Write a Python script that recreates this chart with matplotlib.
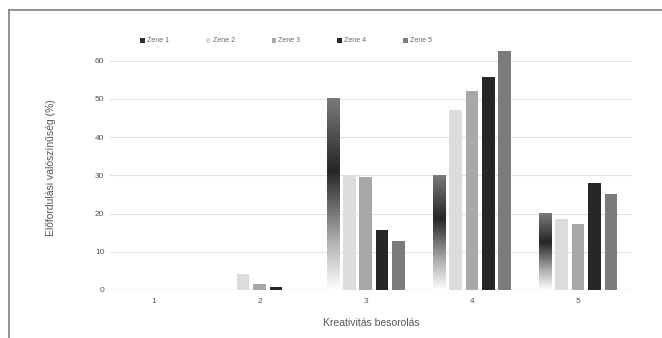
import numpy as np
import matplotlib
matplotlib.use("Agg")
import matplotlib.pyplot as plt
from matplotlib.colors import LinearSegmentedColormap
from matplotlib.lines import Line2D
from matplotlib.patches import Patch

plt.rcParams['font.family'] = ['Liberation Sans', 'DejaVu Sans']

categories = [1, 2, 3, 4, 5]
series_names = ["Zene 1", "Zene 2", "Zene 3", "Zene 4", "Zene 5"]
zene1 = [0, 0, 50.0, 30.0, 20.1]
zene2 = [0, 4.2, 30.0, 47.1, 18.6]
zene3 = [0, 1.5, 29.6, 52.2, 17.4]
zene4 = [0, 0.8, 15.7, 55.8, 28.1]
zene5 = [0, 0, 12.8, 62.6, 25.1]
y_ticks = [0, 10, 20, 30, 40, 50, 60]

series = [zene1, zene2, zene3, zene4, zene5]
colors = ["#3a3a3a", "#dcdcdc", "#a8a8a8", "#262626", "#7b7b7b"]

W, H = 662, 338
fig = plt.figure(figsize=(W / 100, H / 100), dpi=100)
fig.patch.set_facecolor("white")

# frame lines along top and left edge
fig.add_artist(Line2D([8.5 / W, 1.0], [1 - 9.5 / H, 1 - 9.5 / H],
                      transform=fig.transFigure, color="#8a8a8a", lw=1.3))
fig.add_artist(Line2D([8.5 / W, 8.5 / W], [0, 1 - 9.5 / H],
                      transform=fig.transFigure, color="#8a8a8a", lw=1.3))

ax = fig.add_axes([110 / W, 48 / H, 522 / W, 244.5 / H])
ax.set_xlim(0.592, 5.508)
ax.set_ylim(0, 64)

for s in ax.spines.values():
    s.set_visible(False)
ax.set_yticks(y_ticks)
ax.yaxis.grid(True, color="#e2e2e2", lw=0.8)
ax.set_axisbelow(True)
ax.axhline(0, color="#d4d4d4", lw=0.9, zorder=1)
ax.tick_params(axis="both", length=0, labelsize=6, labelcolor="#555555")
ax.tick_params(axis="y", pad=4)
ax.tick_params(axis="x", pad=6)
ax.set_xticks(categories)

bar_w = 0.118
step = 0.1545
offsets = (np.arange(5) - 2) * step

grad = LinearSegmentedColormap.from_list(
    "g", [(0.0, "#ffffff"), (0.25, "#b0b0b0"), (0.62, "#262626"), (1.0, "#7a7a7a")])
grad_img = np.linspace(0, 1, 256).reshape(-1, 1)

x = np.array(categories, dtype=float)
for i, (vals, c) in enumerate(zip(series, colors)):
    xs = x + offsets[i]
    if i == 0:
        for xi, v in zip(xs, vals):
            if v <= 0:
                continue
            ax.imshow(grad_img, cmap=grad, origin="lower", aspect="auto",
                      extent=(xi - bar_w / 2, xi + bar_w / 2, 0, v), zorder=2,
                      interpolation="bilinear")
        ax.set_xlim(0.592, 5.508)
        ax.set_ylim(0, 64)
    else:
        ax.bar(xs, vals, width=bar_w, color=c, zorder=2, linewidth=0)

ax.set_xlabel("Kreativitás besorolás", fontsize=7.5, color="#555555", labelpad=9)
ax.set_ylabel("Előfordulási valószínűség (%)", fontsize=7.5, color="#555555", labelpad=28)

handles = [Patch(facecolor=c, edgecolor="none") for c in colors]
handles[0] = Patch(facecolor="#2e2e2e", edgecolor="none")
fig.legend(handles, series_names, loc="center", bbox_to_anchor=(0.432, 1 - 41 / H),
           ncol=5, frameon=False, fontsize=5, labelcolor="#666666",
           handlelength=0.7, handleheight=0.7, handletextpad=0.3, columnspacing=5.3)

fig.savefig("out.png", dpi=100, facecolor="white")
